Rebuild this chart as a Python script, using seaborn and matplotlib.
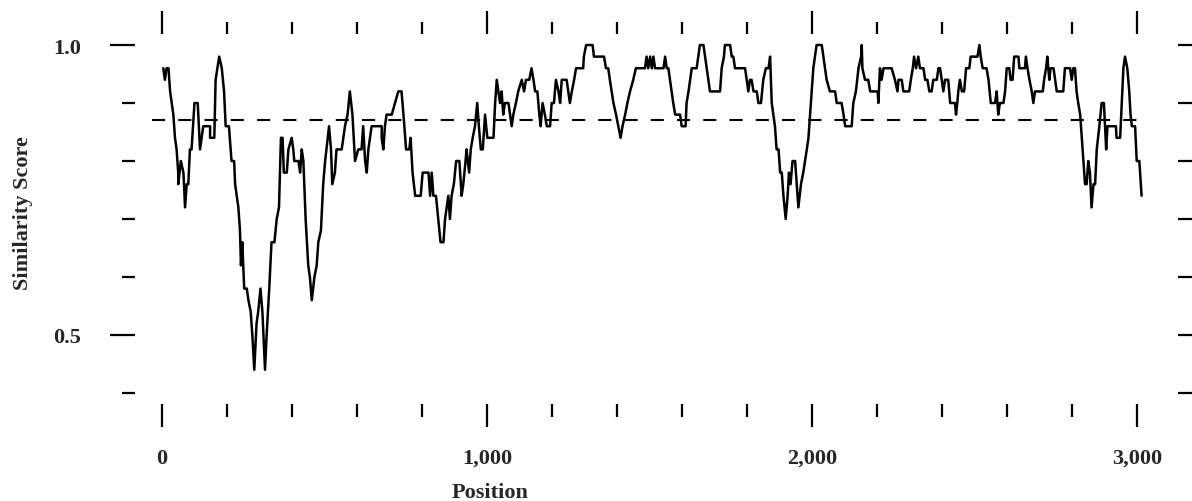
import matplotlib
matplotlib.use("Agg")
import matplotlib.pyplot as plt
import seaborn as sns
import pandas as pd

# sliding-window similarity (vertices of the trace)
positions = [
    4, 9, 14, 20, 25, 30, 35, 40, 45, 50, 50, 58, 66, 71, 76, 81, 86, 91, 100, 110,
    117, 122, 127, 148, 148, 161, 165, 176, 184, 191, 196, 206, 214, 222, 225, 230,
    235, 240, 243, 247, 250, 253, 261, 266, 273, 278, 284, 291, 296, 303, 309, 317,
    322, 330, 337, 346, 353, 360, 366, 371, 375, 384, 389, 399, 404, 407, 420, 425,
    430, 435, 442, 450, 455, 461, 469, 476, 481, 489, 496, 502, 510, 514, 520, 524,
    532, 537, 553, 558, 563, 571, 578, 586, 594, 604, 614, 619, 625, 630, 635, 645,
    676, 676, 681, 686, 691, 707, 717, 727, 737,
    743, 751, 761, 765, 771, 779, 796, 802, 820, 825, 830, 835, 843, 850, 857, 866,
    871, 881, 886, 891, 898, 905, 915, 922, 927, 934, 937, 945, 950, 956, 963, 970,
    975, 981, 987, 994, 1001, 1020, 1025, 1030, 1035, 1040, 1045, 1050, 1055, 1066,
    1071, 1076, 1081, 1089, 1096, 1107, 1114, 1120, 1130, 1137, 1143, 1148, 1155,
    1161, 1165, 1171, 1178, 1184, 1194, 1199, 1206, 1212, 1220, 1225, 1230, 1245,
    1250, 1255, 1261, 1268, 1274, 1296, 1298, 1305, 1325, 1329, 1360, 1366, 1373,
    1378, 1389, 1397, 1404, 1411, 1417, 1425, 1432, 1440, 1450, 1458, 1486,
    1491, 1496, 1502, 1507, 1512, 1517, 1543, 1548, 1553, 1558, 1563, 1568, 1573,
    1579, 1594, 1599, 1611, 1614, 1620, 1625, 1630, 1645, 1650, 1655, 1666, 1671,
    1676, 1681, 1686, 1717, 1722, 1729, 1732, 1748, 1753, 1758, 1763, 1794, 1799,
    1804, 1809, 1814, 1820, 1830, 1835, 1843, 1850, 1858, 1866, 1871, 1876, 1881,
    1886, 1891, 1897, 1902, 1907, 1912, 1919, 1925, 1929, 1934, 1940, 1948, 1953,
    1958, 1966, 1973, 1984, 1989, 1994, 1999, 2004, 2009, 2014, 2030, 2035, 2040,
    2045, 2055, 2071, 2076, 2091, 2097, 2102, 2122, 2127, 2135, 2143, 2151, 2153,
    2155, 2163, 2173, 2179, 2202, 2204, 2209, 2214, 2220, 2245,
    2255, 2263, 2266, 2276, 2281, 2299, 2304, 2310, 2314, 2320, 2327, 2332, 2343,
    2348, 2355, 2361, 2368, 2373, 2384, 2389, 2394, 2399, 2404, 2409, 2419, 2425,
    2440, 2443, 2447, 2450, 2455, 2461, 2468, 2474, 2484, 2488, 2509, 2515, 2519,
    2525, 2537, 2543, 2550, 2563, 2568, 2573, 2578, 2589, 2594, 2599, 2607, 2611,
    2617, 2622, 2635, 2638, 2655, 2658, 2663, 2669, 2676, 2681, 2686, 2710, 2714,
    2720, 2724, 2730, 2734, 2743, 2748, 2753, 2773, 2778, 2794, 2799, 2804, 2809,
    2814, 2819, 2825, 2830, 2835, 2840, 2845, 2850, 2855, 2860, 2866, 2871, 2876,
    2884, 2891, 2898, 2905, 2909, 2935, 2937, 2948, 2953, 2958, 2963, 2970, 2976,
    2980, 2984, 2994, 2999, 3007, 3014,
]
scores = [
    0.96, 0.94, 0.96, 0.96, 0.92, 0.90, 0.88, 0.84, 0.82, 0.78, 0.76, 0.80, 0.78, 0.72, 0.76, 0.76, 0.82, 0.82, 0.90, 0.90,
    0.82, 0.84, 0.86, 0.86, 0.84, 0.84, 0.94, 0.98, 0.96, 0.92, 0.86, 0.86, 0.80, 0.80, 0.76, 0.74,
    0.72, 0.68, 0.62, 0.66, 0.62, 0.58, 0.58, 0.56, 0.54, 0.50, 0.44, 0.52, 0.54, 0.58, 0.54, 0.44,
    0.50, 0.58, 0.66, 0.66, 0.70, 0.72, 0.84, 0.84, 0.78, 0.78, 0.82, 0.84, 0.82, 0.80, 0.80, 0.78,
    0.82, 0.80, 0.70, 0.62, 0.60, 0.56, 0.60, 0.62, 0.66, 0.68, 0.76, 0.80, 0.84, 0.86, 0.82, 0.76,
    0.78, 0.82, 0.82, 0.84, 0.86, 0.88, 0.92, 0.88, 0.80, 0.82, 0.82, 0.86, 0.80, 0.78, 0.82, 0.86,
    0.86, 0.84, 0.82, 0.86, 0.88, 0.88, 0.90, 0.92, 0.92,
    0.88, 0.82, 0.82, 0.84, 0.78, 0.74, 0.74, 0.78, 0.78, 0.74, 0.78, 0.74, 0.74, 0.70, 0.66, 0.66,
    0.70, 0.74, 0.70, 0.74, 0.76, 0.80, 0.80, 0.74, 0.76, 0.80, 0.82, 0.78, 0.82, 0.84, 0.86, 0.90,
    0.86, 0.82, 0.82, 0.88, 0.84, 0.84, 0.90, 0.94, 0.92, 0.90, 0.92, 0.88, 0.90, 0.90,
    0.88, 0.86, 0.88, 0.90, 0.92, 0.94, 0.92, 0.94, 0.94, 0.96, 0.94, 0.92, 0.92,
    0.88, 0.86, 0.90, 0.88, 0.86, 0.86, 0.90, 0.90, 0.94, 0.92, 0.90, 0.94, 0.94,
    0.92, 0.90, 0.92, 0.94, 0.96, 0.96, 0.98, 1.00, 1.00, 0.98, 0.98, 0.96, 0.96,
    0.94, 0.90, 0.88, 0.86, 0.84, 0.86, 0.88, 0.90, 0.92, 0.94, 0.96, 0.96,
    0.98, 0.96, 0.98, 0.96, 0.98, 0.96, 0.96, 0.98, 0.96, 0.96, 0.94, 0.92, 0.90,
    0.88, 0.88, 0.86, 0.86, 0.90, 0.92, 0.94, 0.96, 0.96, 0.98, 1.00, 1.00, 0.98,
    0.96, 0.94, 0.92, 0.92, 0.96, 0.98, 1.00, 1.00, 0.98, 0.98, 0.96, 0.96, 0.94,
    0.92, 0.94, 0.94, 0.92, 0.92, 0.90, 0.90, 0.94, 0.96, 0.96, 0.98, 0.90, 0.88,
    0.86, 0.82, 0.82, 0.78, 0.78, 0.74, 0.70, 0.74, 0.78, 0.76, 0.80, 0.80, 0.76,
    0.72, 0.76, 0.78, 0.82, 0.84, 0.88, 0.92, 0.96, 0.98, 1.00, 1.00, 0.98, 0.96,
    0.94, 0.92, 0.92, 0.90, 0.90, 0.88, 0.86, 0.86, 0.90, 0.92, 0.96, 0.98, 1.00,
    0.96, 0.94, 0.94, 0.92, 0.92, 0.90, 0.96, 0.94, 0.96, 0.96,
    0.94, 0.92, 0.94, 0.94, 0.92, 0.92, 0.94, 0.96, 0.98, 0.96, 0.98, 0.96, 0.96,
    0.94, 0.94, 0.92, 0.92, 0.94, 0.94, 0.96, 0.96, 0.94, 0.92, 0.94, 0.94, 0.90,
    0.90, 0.88, 0.90, 0.92, 0.94, 0.92, 0.92, 0.96, 0.96, 0.98, 0.98, 1.00, 0.98,
    0.96, 0.96, 0.94, 0.90, 0.90, 0.92, 0.88, 0.90, 0.90, 0.92, 0.96, 0.96, 0.94,
    0.94, 0.98, 0.98, 0.96, 0.96, 0.98, 0.96, 0.94, 0.92, 0.90, 0.92, 0.92, 0.94,
    0.96, 0.98, 0.94, 0.96, 0.96, 0.94, 0.92, 0.92, 0.96, 0.96, 0.94, 0.96, 0.96,
    0.92, 0.90, 0.88, 0.84, 0.80, 0.76, 0.76, 0.80, 0.78, 0.72, 0.76, 0.76, 0.82,
    0.86, 0.90, 0.90, 0.82, 0.86, 0.86, 0.84, 0.84, 0.90, 0.96, 0.98, 0.96, 0.92,
    0.88, 0.86, 0.86, 0.80, 0.80, 0.74,
]

threshold = 0.87
threshold_span = [-30, 3015]

x_major = [0, 1000, 2000, 3000]
x_major_labels = ["0", "1,000", "2,000", "3,000"]
x_minor = [200, 400, 600, 800, 1200, 1400, 1600, 1800, 2200, 2400, 2600, 2800]
y_major = [0.5, 1.0]
y_major_labels = ["0.5", "1.0"]
y_minor = [0.4, 0.6, 0.7, 0.8, 0.9]
y_right = [0.4, 0.5, 0.6, 0.7, 0.8, 0.9, 1.0]

sns.set_style("white")
plt.rcParams['font.family'] = ['Liberation Serif', 'DejaVu Serif']
plt.rcParams['font.weight'] = 'bold'

fig = plt.figure(figsize=(11.92, 5.02), dpi=100)
ax = fig.add_axes([135 / 1192, 1 - 405 / 502, 1043 / 1192, 370 / 502])
ax2 = ax.twinx()

df = pd.DataFrame({"Position": positions, "Score": scores})
sns.lineplot(data=df, x="Position", y="Score", sort=False, estimator=None,
             color="black", linewidth=1.8, ax=ax)
ax.hlines(threshold, threshold_span[0], threshold_span[1], colors="black",
          linestyles=(0, (6.3, 6.3)), linewidth=1.5)

ax.set_xlim(-83, 3126)
ax.set_ylim(0.381, 1.019)
ax2.set_ylim(ax.get_ylim())

ax.set_xticks(x_major, labels=x_major_labels)
ax.set_xticks(x_minor, minor=True)
ax.set_yticks(y_major, labels=y_major_labels)
ax.set_yticks(y_minor, minor=True)
ax2.set_yticks(y_right)

ax.tick_params(axis="x", which="both", top=True, bottom=True, direction="out",
               color="black", width=1.6)
ax.tick_params(axis="x", which="major", length=16.5, pad=15, labelsize=16)
ax.tick_params(axis="x", which="minor", length=9)
ax.tick_params(axis="y", which="both", left=True, right=False, direction="out",
               color="black", width=1.6)
ax.tick_params(axis="y", which="major", length=18, pad=21, labelsize=16)
ax.tick_params(axis="y", which="minor", length=9.4)
ax2.tick_params(axis="y", which="both", right=True, direction="out", color="black",
                width=1.6, length=10, labelright=False)

for a in (ax, ax2):
    for s in a.spines.values():
        s.set_visible(False)

ax.set_xlabel("Position", fontsize=16, fontweight="bold")
ax.xaxis.set_label_coords(0.34, -0.21)
ax.set_ylabel("Similarity Score", fontsize=16, fontweight="bold")
ax.yaxis.set_label_coords(-0.098, 0.52)

fig.savefig("out.png", dpi=100)
